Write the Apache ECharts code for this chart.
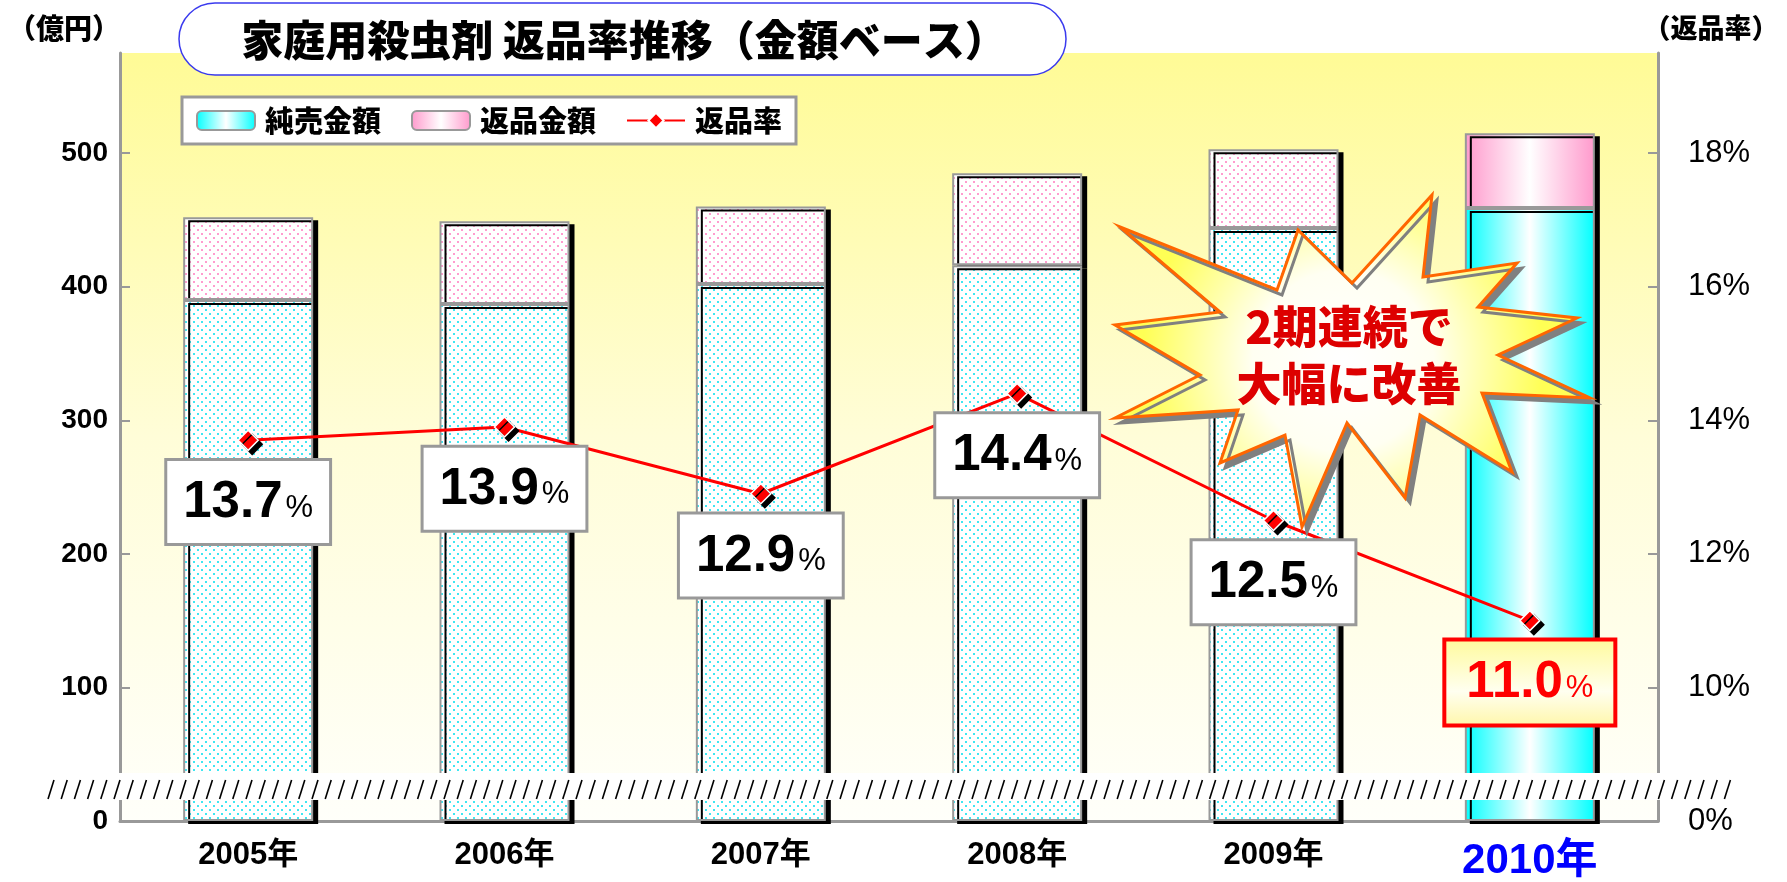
<!DOCTYPE html>
<html>
<head>
<meta charset="utf-8">
<script src="https://cdn.jsdelivr.net/npm/echarts@6/dist/echarts.min.js"></script>
<style>
  html, body { margin: 0; padding: 0; background: #fff; }
  #chart { width: 1787px; height: 882px; }
</style>
</head>
<body>
<div id="chart"></div>
<script>
  // データ（億円 / %）
  const years = ['2005年', '2006年', '2007年', '2008年', '2009年', '2010年']
  const netSales = [390, 387, 402, 416, 444, 459]
  const returnAmount = [62, 62, 58, 69, 59, 56]
  const returnRate = [13.7, 13.9, 12.9, 14.4, 12.5, 11.0]
  const rateTicks = [8, 10, 12, 14, 16, 18] // 8 は省略軸の「0%」

  const NUM = "'Liberation Sans Narrow', 'Liberation Sans', Arial, sans-serif"
  const JP = "'Noto Sans CJK JP', sans-serif"
  const hl = years.length - 1 // 2010年を強調

  function dotPattern(color) {
    const c = document.createElement('canvas')
    c.width = 8; c.height = 8
    const ctx = c.getContext('2d')
    ctx.fillStyle = '#fff'
    ctx.fillRect(0, 0, 8, 8)
    ctx.fillStyle = color
    ctx.fillRect(1, 1, 2, 2)
    ctx.fillRect(5, 5, 2, 2)
    return { image: c, repeat: 'repeat' }
  }
  function hGrad(edge) {
    return new echarts.graphic.LinearGradient(0, 0, 1, 0, [
      { offset: 0, color: edge }, { offset: 0.5, color: '#ffffff' }, { offset: 1, color: edge }
    ])
  }
  const cyanGrad = hGrad('#00ffff')
  const pinkGrad = hGrad('#ff99cc')

  const barBase = { borderColor: '#999', borderWidth: 2, shadowColor: '#000', shadowBlur: 0, shadowOffsetX: 5, shadowOffsetY: 3 }

  const netData = netSales.map((v, i) => i === hl
    ? { value: v, itemStyle: { color: cyanGrad } } : v)
  const retData = returnAmount.map((v, i) => i === hl
    ? { value: v, itemStyle: { color: pinkGrad } } : v)

  const rateData = returnRate.map((v, i) => {
    if (i !== hl) return v
    return {
      value: v,
      label: {
        backgroundColor: new echarts.graphic.LinearGradient(0, 0, 0, 1, [
          { offset: 0, color: '#fffa9a' }, { offset: 0.6, color: '#fffff0' }, { offset: 1, color: '#fff6a8' }
        ]),
        borderColor: '#ff0000',
        borderWidth: 4,
        padding: [13, 20, 11, 20],
        rich: { n: { color: '#ff0000' }, p: { color: '#ff0000' } }
      }
    }
  })

  // 星形（吹き出し）
  const starPts = [[1120, 227], [1277, 290], [1298, 230], [1352, 283], [1432, 195], [1423, 277],
    [1517, 263], [1478, 307], [1577, 318], [1498, 355], [1590, 398], [1482, 393], [1512, 472],
    [1420, 415], [1405, 498], [1347, 423], [1302, 527], [1285, 435], [1220, 463], [1238, 410],
    [1115, 418], [1200, 375], [1115, 325], [1220, 312]]

  // 省略線
  const breakLines = []
  for (let x = 48; x < 1728; x += 13.2) {
    breakLines.push({
      type: 'line', z: 101, silent: true,
      shape: { x1: x, y1: 799, x2: x + 6, y2: 780 },
      style: { stroke: '#000', lineWidth: 1.6 }
    })
  }

  const chart = echarts.init(document.getElementById('chart'))
  chart.setOption({
    animation: false,
    textStyle: { fontFamily: JP },
    grid: {
      left: 120, right: 129, top: 53, bottom: 51,
      show: true, borderWidth: 0,
      backgroundColor: new echarts.graphic.LinearGradient(0, 0, 0, 1, [
        { offset: 0, color: '#fffb96' }, { offset: 0.5, color: '#fffdd8' }, { offset: 1, color: '#fffffa' }
      ])
    },
    legend: {
      left: 182, top: 97,
      padding: [9, 14, 9, 14],
      itemGap: 30, itemWidth: 58, itemHeight: 19,
      backgroundColor: '#fff', borderColor: '#999', borderWidth: 3, borderRadius: 0,
      textStyle: { fontFamily: JP, fontWeight: 900, fontSize: 29, color: '#000', padding: [0, 0, 0, 5] },
      data: [
        { name: '純売金額', itemStyle: { color: cyanGrad, borderColor: '#999', borderWidth: 2, shadowOffsetX: 0, shadowOffsetY: 0 } },
        { name: '返品金額', itemStyle: { color: pinkGrad, borderColor: '#999', borderWidth: 2, shadowOffsetX: 0, shadowOffsetY: 0 } },
        { name: '返品率' }
      ]
    },
    xAxis: {
      type: 'category',
      data: years.map((y, i) => i === hl
        ? { value: y, textStyle: { color: '#0000ff', fontSize: 42, fontWeight: 'bold' } }
        : y),
      axisLine: { lineStyle: { color: '#999', width: 3 } },
      axisTick: { inside: true, length: 11, lineStyle: { color: '#999', width: 2 } },
      axisLabel: { margin: 19, color: '#000', fontSize: 31, fontWeight: 'bold', fontFamily: "'Liberation Sans', " + JP }
    },
    yAxis: [
      {
        type: 'value', min: 0, max: 575, interval: 100,
        axisLine: { show: true, lineStyle: { color: '#999', width: 3 } },
        axisTick: { show: true, inside: true, length: 10, lineStyle: { color: '#999', width: 2 } },
        splitLine: { show: false },
        axisLabel: { showMaxLabel: false, margin: 12, color: '#000', fontSize: 28, fontWeight: 'bold', fontFamily: NUM }
      },
      {
        type: 'value', position: 'right', min: rateTicks[0], max: 19.5, interval: 2,
        axisLine: { show: true, lineStyle: { color: '#999', width: 3 } },
        axisTick: { show: true, inside: true, length: 10, lineStyle: { color: '#999', width: 2 } },
        splitLine: { show: false },
        axisLabel: {
          showMaxLabel: false, margin: 30, color: '#000', fontSize: 31, fontFamily: NUM,
          formatter: v => rateTicks.indexOf(v) === 0 ? '0%' : (rateTicks.indexOf(v) > 0 ? v + '%' : '')
        }
      }
    ],
    series: [
      {
        name: '純売金額', type: 'bar', stack: 'amt', barWidth: 130, z: 3,
        itemStyle: Object.assign({ color: dotPattern('#3fe6f2') }, barBase),
        data: netData
      },
      {
        name: '返品金額', type: 'bar', stack: 'amt', barWidth: 130, z: 2,
        itemStyle: Object.assign({ color: dotPattern('#ff9ccf') }, barBase),
        data: retData
      },
      {
        name: '返品率', type: 'line', yAxisIndex: 1, z: 5,
        symbol: 'diamond', symbolSize: 20,
        lineStyle: { color: '#ff0000', width: 3 },
        itemStyle: {
          color: '#ff0000', borderColor: '#fff', borderWidth: 1.5,
          shadowColor: '#000', shadowBlur: 0, shadowOffsetX: 4, shadowOffsetY: 4
        },
        label: {
          show: true, position: 'bottom', distance: 10,
          backgroundColor: '#fff', borderColor: '#999', borderWidth: 3,
          padding: [13, 16, 11, 16],
          formatter: p => '{n|' + p.value.toFixed(1) + '}{p|%}',
          rich: {
            n: { fontSize: 51, fontWeight: 'bold', fontFamily: NUM, color: '#000', lineHeight: 58 },
            p: { fontSize: 31, fontFamily: NUM, color: '#000', padding: [10, 0, 0, 3] }
          }
        },
        data: rateData
      }
    ],
    graphic: [
      {
        type: 'rect', z: 50, shape: { x: 179, y: 3, width: 887, height: 72, r: 36 },
        style: { fill: '#fff', stroke: '#3a3aee', lineWidth: 1.5 }
      },
      {
        type: 'text', z: 51, x: 624, y: 40,
        style: { text: '家庭用殺虫剤 返品率推移（金額ベース）', fill: '#000', font: "900 42px 'Noto Sans CJK JP'", align: 'center', verticalAlign: 'middle' }
      },
      {
        type: 'text', z: 51, x: 64, y: 28,
        style: { text: '（億円）', fill: '#000', font: "900 28px 'Noto Sans CJK JP'", align: 'center', verticalAlign: 'middle' }
      },
      {
        type: 'text', z: 51, x: 1711, y: 28,
        style: { text: '（返品率）', fill: '#000', font: "900 27px 'Noto Sans CJK JP'", align: 'center', verticalAlign: 'middle' }
      },
      {
        type: 'polygon', z: 60, shape: { points: starPts },
        style: {
          fill: new echarts.graphic.RadialGradient(0.48, 0.5, 0.6, [
            { offset: 0, color: '#ffffff' }, { offset: 0.45, color: '#fffff2' }, { offset: 1, color: '#ffff55' }
          ]),
          stroke: '#ff6600', lineWidth: 3,
          shadowColor: '#808080', shadowBlur: 0, shadowOffsetX: 5, shadowOffsetY: 5
        }
      },
      {
        type: 'text', z: 61, x: 1349, y: 327,
        style: {
          text: '2期連続で', fill: '#dd0000', font: "900 45px 'Noto Sans CJK JP'", align: 'center', verticalAlign: 'middle',
          shadowColor: '#333', shadowBlur: 0, shadowOffsetX: 3, shadowOffsetY: 3
        }
      },
      {
        type: 'text', z: 61, x: 1349, y: 384,
        style: {
          text: '大幅に改善', fill: '#dd0000', font: "900 45px 'Noto Sans CJK JP'", align: 'center', verticalAlign: 'middle',
          shadowColor: '#333', shadowBlur: 0, shadowOffsetX: 3, shadowOffsetY: 3
        }
      },
      {
        type: 'rect', z: 100, silent: true, shape: { x: 46, y: 773, width: 1686, height: 27 },
        style: { fill: '#fff' }
      }
    ].concat(breakLines)
  })
</script>
</body>
</html>
